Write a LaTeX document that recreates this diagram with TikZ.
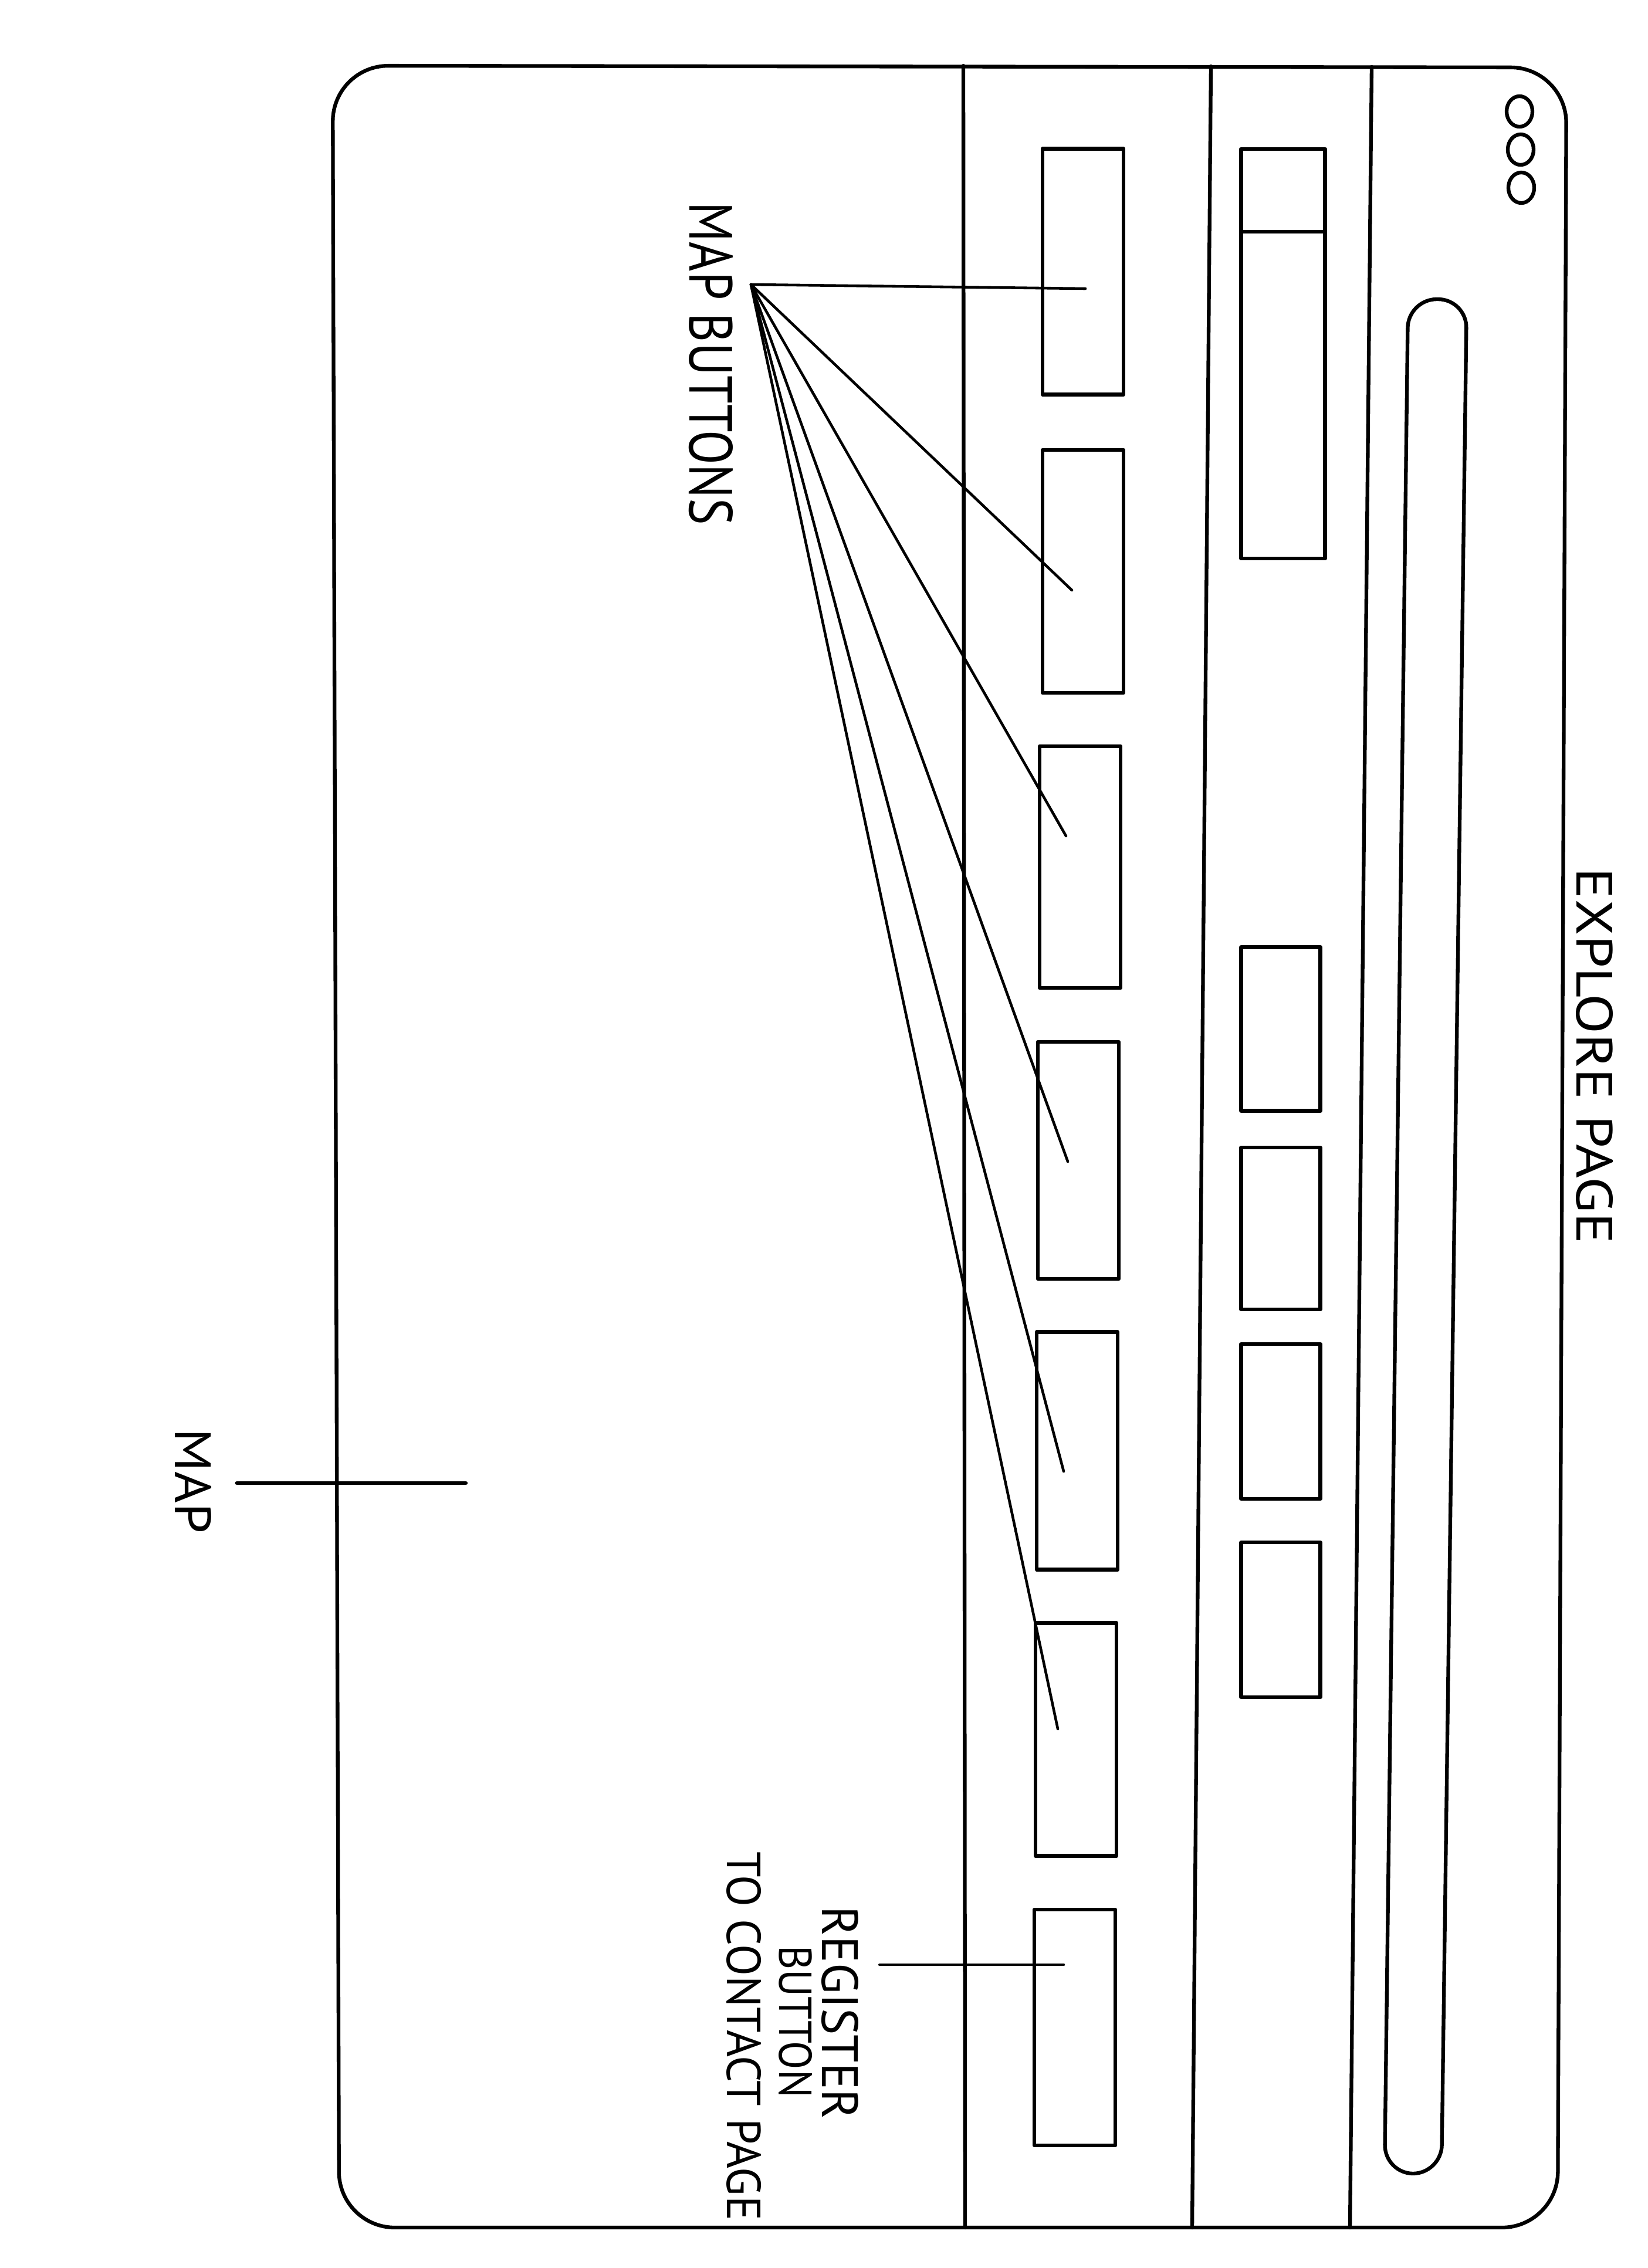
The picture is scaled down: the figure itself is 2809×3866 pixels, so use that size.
\documentclass[tikz,border=0pt]{standalone}
\usepackage{graphicx}
\usepackage{fontspec}
\setsansfont{PT Sans}
\tikzset{
  ink/.style={line width=1.8pt, line cap=round, line join=round},
  thin ink/.style={line width=1.3pt, line cap=round},
  btn/.style={draw, ink, rectangle, inner sep=0pt, minimum width=1.38cm, minimum height=4.08cm},
  sbox/.style={draw, ink, rectangle, inner sep=0pt, minimum width=1.35cm, minimum height=2.7cm},
  lbl/.style={rotate=-90, inner sep=0pt, font=\sffamily},
  dot/.style={draw, ink, ellipse, inner sep=0pt, minimum width=0.44cm, minimum height=0.52cm}
}
\usetikzlibrary{shapes.geometric}
\begin{document}
\begin{tikzpicture}[x=0.01cm, y=-0.01cm]
\useasboundingbox (0,0) rectangle (2809,3866);
% outer frame
\draw[ink, rounded corners=0.95cm] (567,112) -- (2670,115) -- (2655,3797) -- (578,3797) -- cycle;
% column separators
\draw[ink] (1642,112) -- (1645,3797);
\draw[ink] (2064,113) -- (2032,3797);
\draw[ink] (2338,114) -- (2301,3797);
% window dots
\node[dot] (d1) at (2590,190) {};
\node[dot] (d2) at (2592,255) {};
\node[dot] (d3) at (2593,320) {};
% search bar
\draw[ink, rounded corners=0.49cm] (2400,510) -- (2500,510) -- (2457,3705) -- (2360,3705) -- cycle;
% right column boxes
\node[draw, ink, rectangle, inner sep=0pt, minimum width=1.43cm, minimum height=6.98cm] (tall) at (2187,603) {};
\draw[ink] (2116,395) -- (2259,395);
\node[sbox, minimum height=2.79cm] (s1) at (2183,1754) {};
\node[sbox, minimum height=2.76cm] (s2) at (2183,2094) {};
\node[sbox, minimum height=2.64cm] (s3) at (2183,2423) {};
\node[sbox, minimum height=2.64cm] (s4) at (2183,2761) {};
% map buttons column
\node[btn, minimum height=4.19cm] (b1) at (1846,463) {};
\node[btn, minimum height=4.14cm] (b2) at (1846,974) {};
\node[btn, minimum height=4.12cm] (b3) at (1841,1478) {};
\node[btn, minimum height=4.04cm] (b4) at (1838,1978) {};
\node[btn, minimum height=4.05cm] (b5) at (1836,2473) {};
\node[btn, minimum height=3.97cm] (b6) at (1834,2965) {};
\node[btn, minimum height=4.02cm] (b7) at (1832,3456) {};
% labels
\node[lbl] (explore) at (2718,1800) {\resizebox{6.4cm}{0.62cm}{EXPLORE PAGE}};
\node[lbl] (mapbtn) at (1212,620) {\resizebox{5.5cm}{0.74cm}{MAP BUTTONS}};
\node[lbl] (maplbl) at (330,2525) {\resizebox{1.78cm}{0.62cm}{MAP}};
\node[lbl] (reg1) at (1432,3431) {\resizebox{3.63cm}{0.62cm}{REGISTER}};
\node[lbl] (reg2) at (1356,3446) {\resizebox{2.59cm}{0.56cm}{BUTTON}};
\node[lbl] (reg3) at (1268,3471) {\resizebox{6.28cm}{0.58cm}{TO CONTACT PAGE}};
% fan of connectors
\coordinate (apex) at (1280,485);
\coordinate (e1) at (1850,492);
\coordinate (e2) at (1827,1006);
\coordinate (e3) at (1817,1425);
\coordinate (e4) at (1820,1980);
\coordinate (e5) at (1813,2508);
\coordinate (e6) at (1803,2947);
\foreach \e in {e1,e2,e3,e4,e5,e6} \draw[thin ink] (apex) -- (\e);
% map connector
\coordinate (mapend) at (794,2528);
\draw[ink] ([xshift=0.42cm]maplbl.north |- mapend) -- (mapend);
% register connector
\coordinate (regend) at (1813,3349);
\draw[thin ink] ([xshift=0.35cm]reg1.north |- regend) -- (regend);
\end{tikzpicture}
\end{document}
